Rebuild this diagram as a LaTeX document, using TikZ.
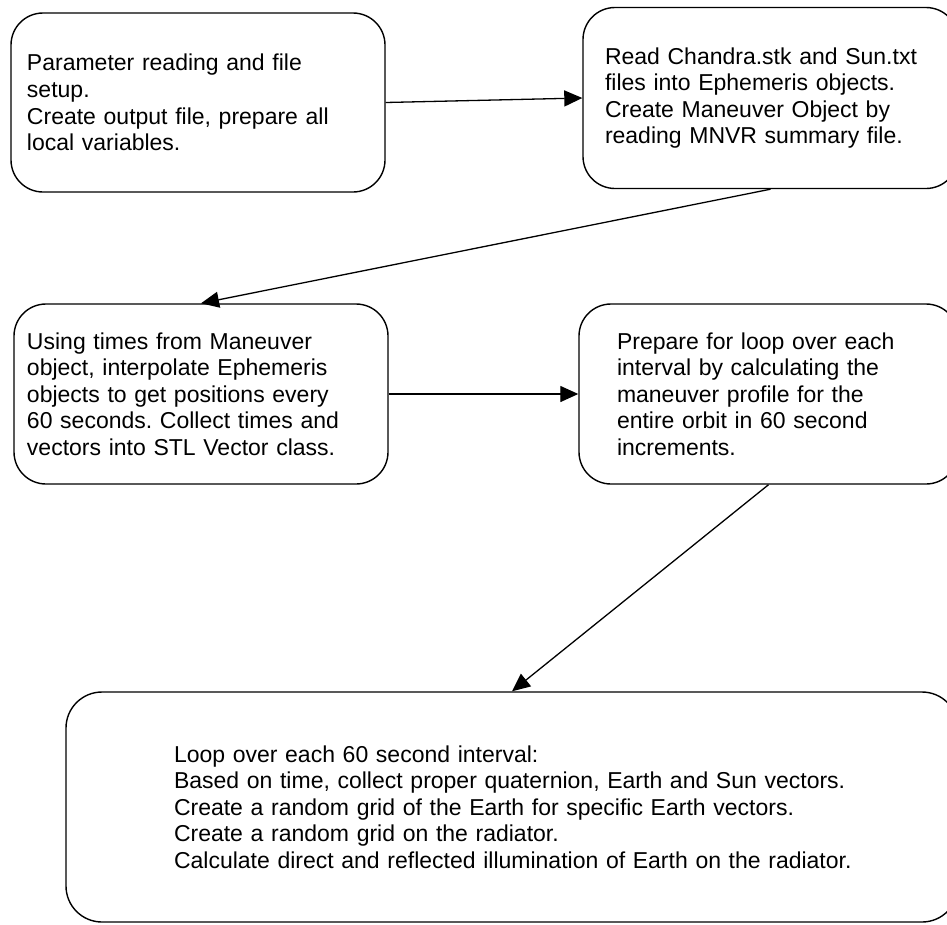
\documentclass[tikz,border=0pt]{standalone}
\usepackage{fontspec}
\setmainfont{Liberation Sans}
\usepackage{tikz}
\usetikzlibrary{arrows.meta,positioning}
\frenchspacing
\tikzset{
  stepbox/.style={draw=black,line width=1.4pt,rounded corners=32pt,fill=white,align=left,inner ysep=0pt,
    font=\fontsize{23}{26.6}\selectfont},
  arrow/.style={-{Triangle[length=18pt,width=16pt]},line width=1.3pt,draw=black}
}
\begin{document}
\begin{tikzpicture}[x=1pt,y=-1pt]
  \useasboundingbox (0,0) rectangle (947,924);

  \node[stepbox,minimum height=179pt,text width=342pt,inner xsep=16pt] (setup) at (198,102.5)
    {Parameter reading and file\\setup.\\Create output file, prepare all\\local variables.};
  \node[stepbox,minimum height=181pt,text width=331pt,inner xsep=22pt] (ephem) at (770.5,98)
    {Read Chandra.stk and Sun.txt\\files into Ephemeris objects.\\Create Maneuver Object by\\reading MNVR summary file.};
  \node[stepbox,minimum height=180pt,text width=348pt,inner xsep=13pt] (interp) at (201,394)
    {Using times from Maneuver\\object, interpolate Ephemeris\\objects to get positions every\\60 seconds. Collect times and\\vectors into STL Vector class.};
  \node[stepbox,minimum height=180pt,text width=303pt,inner xsep=38pt] (prep) at (768.5,394)
    {Prepare for loop over each\\interval by calculating the\\maneuver profile for the\\entire orbit in 60 second\\increments.};
  \node[stepbox,minimum height=230pt,text width=676pt,inner xsep=108pt,rounded corners=36pt] (loop) at (512,807)
    {Loop over each 60 second interval:\\Based on time, collect proper quaternion, Earth and Sun vectors.\\Create a random grid of the Earth for specific Earth vectors.\\Create a random grid on the radiator.\\\mbox{Calculate direct and reflected illumination of Earth on the radiator.}};

  \draw[arrow] (setup.east) -- (ephem.west);
  \draw[arrow] (ephem.south) -- (interp.north);
  \draw[arrow] (interp.east) -- (prep.west);
  \draw[arrow] (prep.south) -- (loop.north);
\end{tikzpicture}
\end{document}
